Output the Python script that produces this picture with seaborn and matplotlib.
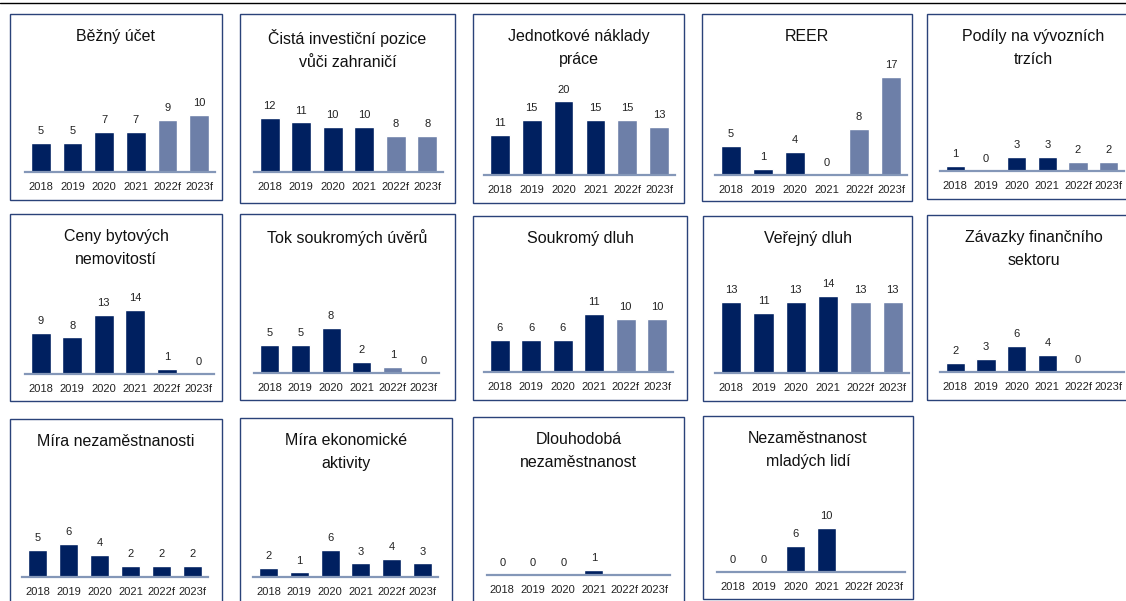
import numpy as np
import matplotlib
matplotlib.use('Agg')
import matplotlib.pyplot as plt
from matplotlib.patches import Rectangle
from matplotlib.lines import Line2D
import seaborn as sns

sns.set_style('white')
plt.rcParams['font.family'] = ['Liberation Sans', 'DejaVu Sans']

years = ['2018', '2019', '2020', '2021', '2022f', '2023f']

# hodnoty jednotlivych ukazatelu
bezny_ucet = [5, 5, 7, 7, 9, 10]
investicni_pozice = [12, 11, 10, 10, 8, 8]
naklady_prace = [11, 15, 20, 15, 15, 13]
reer = [5, 1, 4, 0, 8, 17]
podily_vyvoz = [1, 0, 3, 3, 2, 2]
ceny_nemovitosti = [9, 8, 13, 14, 1, 0]
tok_uveru = [5, 5, 8, 2, 1, 0]
soukromy_dluh = [6, 6, 6, 11, 10, 10]
verejny_dluh = [13, 11, 13, 14, 13, 13]
zavazky_fin = [2, 3, 6, 4, 0, np.nan]
mira_nezam = [5, 6, 4, 2, 2, 2]
mira_aktivity = [2, 1, 6, 3, 4, 3]
dlouhodoba_nezam = [0, 0, 0, 1, np.nan, np.nan]
nezam_mladych = [0, 0, 6, 10, np.nan, np.nan]

titles = [
    'Běžný účet', 'Čistá investiční pozice\nvůči zahraničí', 'Jednotkové náklady\npráce',
    'REER', 'Podíly na vývozních\ntrzích',
    'Ceny bytových\nnemovitostí', 'Tok soukromých úvěrů', 'Soukromý dluh',
    'Veřejný dluh', 'Závazky finančního\nsektoru',
    'Míra nezaměstnanosti', 'Míra ekonomické\naktivity', 'Dlouhodobá\nnezaměstnanost',
    'Nezaměstnanost\nmladých lidí',
]
series = [
    bezny_ucet, investicni_pozice, naklady_prace, reer, podily_vyvoz,
    ceny_nemovitosti, tok_uveru, soukromy_dluh, verejny_dluh, zavazky_fin,
    mira_nezam, mira_aktivity, dlouhodoba_nezam, nezam_mladych,
]
# zda jsou prognozy (2022f, 2023f) svetlejsi
forecast_light = [True, True, True, True, True,
                  False, True, True, True, True,
                  False, False, False, False]

# rozvrzeni v pixelech: ramecek (x0, y0, x1, y1), osa x0, x1, zakladna, ymax
layout = [
    ((10, 14, 222, 200), 25, 215, 172, 17.4),
    ((240, 14, 455, 203), 254, 443, 172, 22.2),
    ((473, 14, 684, 203), 484, 675, 175, 27.2),
    ((702, 14, 912, 201), 715, 907, 175, 17.4),
    ((927, 14, 1140, 199), 940, 1124, 171, 21.3),
    ((10, 214, 222, 401), 25, 214, 374, 21.9),
    ((240, 214, 455, 400), 254, 439, 373, 17.9),
    ((473, 216, 687, 400), 484, 673, 372, 18.9),
    ((703, 216, 912, 401), 715, 909, 373, 18.2),
    ((927, 215, 1140, 400), 940, 1124, 372, 23.3),
    ((10, 419, 222, 640), 22, 208, 577, 18.2),
    ((240, 418, 452, 640), 253, 438, 577, 22.2),
    ((473, 417, 684, 640), 487, 670, 575, 20.0),
    ((703, 416, 913, 599), 717, 905, 572, 22.7),
]

W, H = 1126, 601
dark = '#002060'
light = '#6D7FA8'
base_col = '#8497B8'
frame_col = '#2A4279'

fig = plt.figure(figsize=(W / 100, H / 100), dpi=100)
fig.add_artist(Line2D([0, 1], [1 - 3 / H] * 2, color='black', lw=1))

for title, vals, lt, (box, ax0, ax1, base, ymax) in zip(titles, series, forecast_light, layout):
    bx0, by0, bx1, by1 = box
    fig.add_artist(Rectangle((bx0 / W, 1 - by1 / H), (bx1 - bx0) / W, (by1 - by0) / H,
                             transform=fig.transFigure, fill=False,
                             edgecolor=frame_col, lw=1))
    fig.text((bx0 + bx1) / 2 / W, 1 - (by0 + 15) / H, title, ha='center', va='top',
             fontsize=11.5, linespacing=1.7, color='#111111')

    ax = fig.add_axes([ax0 / W, 1 - base / H, (ax1 - ax0) / W, 100 / H])
    colors = [light if (lt and y.endswith('f')) else dark for y in years]
    sns.barplot(x=years, y=vals, hue=years, palette=colors, order=years,
                legend=False, width=0.62, saturation=1, ax=ax)
    for i, v in enumerate(vals):
        if not np.isnan(v):
            ax.annotate(f'{int(v)}', (i, v), xytext=(0, 5), textcoords='offset points',
                        ha='center', va='bottom', fontsize=8, color='#222222')
    ax.set_xlim(-0.5, 5.5)
    ax.set_ylim(0, ymax)
    ax.set_facecolor('none')
    sns.despine(ax=ax, left=True)
    ax.spines['bottom'].set_color(base_col)
    ax.spines['bottom'].set_linewidth(1.6)
    ax.set_yticks([])
    ax.tick_params(axis='x', length=0, pad=7.5, labelsize=8, labelcolor='#222222')
    ax.set_xlabel('')
    ax.set_ylabel('')

fig.savefig('out.png', dpi=100)
